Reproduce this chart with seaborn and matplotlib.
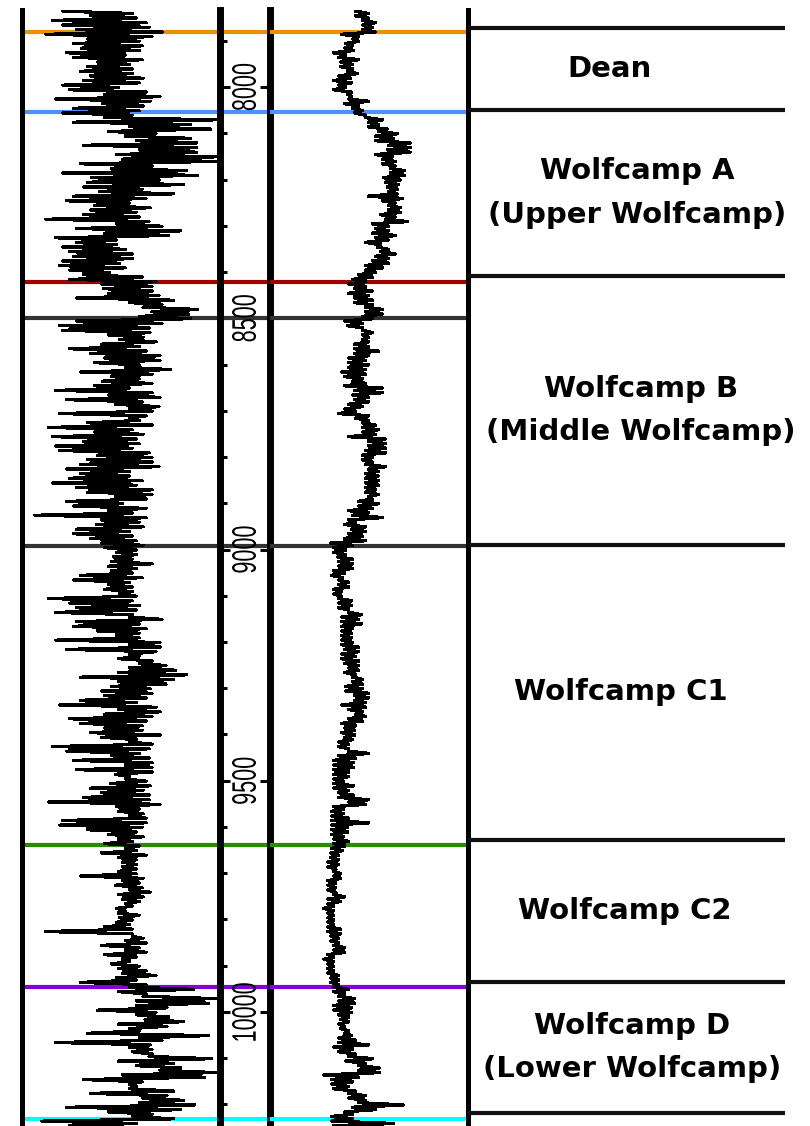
import numpy as np
import pandas as pd
import matplotlib
matplotlib.use('Agg')
import matplotlib.pyplot as plt
from matplotlib.ticker import MultipleLocator
from matplotlib.textpath import TextPath
from matplotlib.patches import PathPatch
from matplotlib.font_manager import FontProperties
from matplotlib.transforms import Affine2D
import seaborn as sns

sns.set_theme(style='white')
plt.rcParams['font.family'] = ['DejaVu Sans']

# log curves, one row every 10 ft
depth = np.arange(7836, 10247, 10)

# gamma ray track: low / high swing within each 10 ft row
gr_low = [41, 69, 31, 41, 55, 24, 66, 52, 60, 45, 52, 76, 66, 59, 69, 62, 41, 48, 83, 34,
          81, 52, 41, 83, 52, 108, 87, 104, 115, 62, 118, 95, 101, 59, 90, 41, 70, 66, 62, 78,
          52, 45, 73, 69, 62, 24, 95, 55, 83, 34, 55, 41, 48, 52, 41, 38, 48, 62, 48, 80,
          82, 87, 55, 108, 122, 131, 118, 55, 38, 41, 87, 98, 80, 48, 69, 83, 73, 104, 59, 90,
          81, 73, 34, 87, 45, 94, 108, 38, 108, 66, 27, 73, 31, 62, 34, 38, 76, 66, 59, 45,
          59, 48, 31, 55, 66, 94, 45, 52, 87, 13, 80, 75, 55, 52, 69, 80, 83, 95, 92, 90,
          87, 90, 59, 52, 87, 83, 98, 27, 48, 55, 34, 108, 55, 52, 76, 95, 34, 108, 45, 108,
          97, 118, 108, 97, 59, 97, 90, 80, 83, 59, 38, 97, 83, 48, 59, 83, 69, 80, 108, 31,
          45, 90, 52, 104, 55, 94, 104, 89, 69, 80, 62, 27, 95, 97, 108, 41, 38, 66, 87, 97,
          83, 104, 80, 97, 101, 101, 97, 59, 101, 94, 108, 97, 101, 104, 95, 97, 98, 95, 83, 24,
          111, 104, 80, 104, 83, 101, 90, 97, 101, 95, 59, 108, 97, 122, 115, 115, 76, 115, 124, 97,
          108, 66, 118, 34, 108, 111, 128, 97, 115, 139, 101, 62, 108, 108, 69, 122, 118, 45, 87, 111,
          20, 48]
gr_high = [111, 115, 125, 128, 141, 131, 118, 121, 118, 104, 121, 108, 111, 111, 122, 118, 97, 125, 139, 129,
           122, 118, 111, 195, 170, 190, 135, 170, 176, 176, 176, 195, 195, 131, 166, 177, 138, 163, 121, 153,
           125, 108, 129, 115, 118, 128, 141, 160, 148, 95, 95, 104, 111, 111, 98, 104, 88, 121, 135, 131,
           131, 138, 153, 141, 177, 168, 170, 141, 128, 129, 122, 135, 118, 125, 139, 139, 118, 150, 131, 118,
           131, 108, 131, 139, 121, 138, 131, 125, 118, 131, 111, 122, 115, 118, 111, 128, 131, 131, 138, 108,
           108, 121, 115, 131, 131, 125, 101, 125, 111, 125, 118, 122, 108, 111, 115, 122, 115, 115, 111, 131,
           115, 111, 121, 108, 111, 111, 115, 111, 118, 115, 111, 141, 118, 125, 118, 118, 139, 139, 135, 118,
           131, 145, 155, 166, 153, 145, 129, 131, 125, 115, 135, 139, 131, 125, 121, 121, 139, 115, 131, 128,
           118, 128, 131, 131, 131, 108, 125, 129, 122, 128, 128, 139, 118, 122, 125, 125, 121, 115, 122, 111,
           118, 115, 125, 115, 115, 115, 115, 122, 118, 121, 129, 122, 118, 111, 104, 118, 111, 108, 111, 111,
           122, 125, 118, 125, 115, 108, 118, 125, 135, 115, 125, 173, 125, 195, 188, 146, 135, 148, 163, 146,
           118, 188, 141, 129, 131, 131, 191, 153, 160, 195, 184, 121, 115, 153, 146, 163, 174, 160, 131, 153,
           115, 139]

# second curve (right track): low / high swing within each 10 ft row
res_low = [87, 87, 94, 94, 94, 73, 84, 77, 76, 65, 70, 72, 72, 79, 70, 65, 70, 65, 79, 80,
           76, 84, 86, 97, 100, 100, 110, 107, 107, 120, 119, 107, 114, 114, 122, 122, 115, 117, 119, 120,
           100, 114, 120, 120, 112, 117, 104, 107, 104, 107, 97, 109, 112, 107, 104, 97, 97, 90, 84, 80,
           86, 80, 86, 86, 97, 97, 94, 76, 79, 94, 94, 94, 86, 86, 86, 80, 80, 80, 73, 76,
           84, 76, 86, 84, 86, 80, 76, 70, 87, 94, 94, 94, 80, 100, 100, 97, 94, 94, 97, 100,
           97, 97, 97, 97, 97, 100, 90, 90, 80, 84, 80, 76, 83, 80, 76, 62, 65, 65, 69, 70,
           70, 65, 63, 70, 70, 65, 65, 70, 70, 70, 80, 73, 73, 73, 73, 73, 73, 73, 76, 73,
           73, 76, 80, 76, 84, 84, 77, 77, 86, 86, 73, 80, 87, 80, 73, 76, 73, 76, 70, 70,
           80, 70, 65, 65, 65, 65, 65, 65, 65, 70, 70, 80, 65, 63, 63, 63, 63, 63, 63, 65,
           65, 63, 62, 62, 59, 59, 65, 65, 59, 59, 59, 65, 59, 59, 55, 59, 59, 59, 59, 59,
           62, 62, 65, 65, 59, 55, 59, 59, 59, 62, 62, 65, 65, 70, 70, 65, 65, 70, 72, 70,
           72, 76, 70, 70, 65, 70, 80, 77, 90, 90, 55, 63, 63, 65, 80, 80, 90, 84, 76, 63,
           63, 65]
res_high = [100, 100, 107, 104, 107, 90, 90, 84, 85, 77, 90, 84, 84, 89, 82, 83, 77, 83, 83, 100,
            90, 94, 97, 114, 110, 119, 129, 125, 142, 142, 142, 124, 127, 127, 136, 136, 132, 130, 129, 129,
            134, 127, 132, 132, 127, 139, 120, 120, 127, 120, 112, 120, 127, 120, 120, 114, 107, 104, 97, 97,
            104, 100, 104, 104, 114, 114, 104, 94, 94, 104, 100, 100, 100, 110, 100, 97, 100, 97, 97, 94,
            97, 114, 114, 100, 100, 94, 87, 100, 100, 107, 110, 107, 117, 117, 117, 117, 104, 104, 117, 110,
            110, 110, 110, 107, 110, 104, 110, 104, 100, 114, 87, 97, 97, 94, 97, 84, 77, 77, 84, 84,
            84, 76, 74, 80, 80, 73, 73, 83, 83, 80, 93, 90, 93, 84, 83, 83, 84, 90, 90, 87,
            90, 90, 90, 87, 94, 94, 94, 100, 100, 97, 97, 94, 97, 94, 87, 86, 86, 84, 80, 80,
            100, 87, 85, 85, 80, 80, 75, 85, 80, 85, 100, 97, 75, 75, 80, 100, 79, 79, 75, 80,
            76, 74, 70, 70, 70, 67, 72, 72, 67, 67, 67, 76, 72, 65, 65, 65, 65, 65, 72, 72,
            70, 70, 76, 76, 65, 65, 65, 65, 70, 70, 70, 80, 76, 86, 86, 83, 83, 80, 80, 76,
            80, 83, 87, 100, 84, 87, 104, 97, 111, 111, 90, 84, 80, 87, 97, 97, 135, 107, 84, 84,
            125, 125]

# formation top picks drawn across the log tracks
top_depths = [7881, 8055, 8421, 8500, 8993, 9638, 9946, 10231]
top_colors = ['#e89200', '#4d91ff', '#a00000', '#333333', '#333333', '#2b8a00', '#8800d8', '#00ffff']

# zonation panel
zone_bounds = [7872, 8050, 8409, 8990, 9628, 9935, 10218]
zone_labels = ['Dean', 'Wolfcamp A\n(Upper Wolfcamp)', 'Wolfcamp B\n(Middle Wolfcamp)',
               'Wolfcamp C1', 'Wolfcamp C2', 'Wolfcamp D\n(Lower Wolfcamp)']
label_x = [0.414, 0.496, 0.506, 0.449, 0.460, 0.480]

depth_labels = [8000, 8500, 9000, 9500, 10000]

W, H = 810, 1126
fig = plt.figure(figsize=(W / 100, H / 100), dpi=100)


def box(x0, x1, y0=10, y1=H):
    return [x0 / W, 1 - y1 / H, (x1 - x0) / W, (y1 - y0) / H]


ax1 = fig.add_axes(box(22, 220.5))
axd = fig.add_axes(box(220.5, 269.5), sharey=ax1)
ax2 = fig.add_axes(box(269.5, 467.5), sharey=ax1)
axr = fig.add_axes(box(467.5, 810), sharey=ax1)
for ax in (ax1, axd, ax2, axr):
    ax.set_facecolor('none')

ax1.set_ylim(10246.5, 7833.5)


def zigzag(low, high):
    # alternate the low and high reading of every row, half a row apart
    return pd.DataFrame({
        'depth': np.column_stack([depth, depth + 5]).ravel(),
        'value': np.column_stack([low, high]).ravel(),
    })


sns.lineplot(data=zigzag(gr_low, gr_high), x='value', y='depth', orient='y', sort=False,
             estimator=None, color='black', lw=1.6, antialiased=False, ax=ax1, zorder=3)
sns.lineplot(data=zigzag(res_low, res_high), x='value', y='depth', orient='y', sort=False,
             estimator=None, color='black', lw=1.7, antialiased=False, ax=ax2, zorder=3)

for ax in (ax1, axd, ax2):
    ax.set_xlim(0, 200)
    for d, c in zip(top_depths, top_colors):
        ax.axhline(d, color=c, lw=3, zorder=1)
    ax.set_xlabel('')
    ax.set_ylabel('')
    ax.set_xticks([])
    for s in ax.spines.values():
        s.set_visible(False)
        s.set_color('black')

ax1.spines['left'].set_visible(True)
ax1.spines['left'].set_linewidth(3.6)
ax2.spines['right'].set_visible(True)
ax2.spines['right'].set_linewidth(3.6)
for side in ('left', 'right'):
    axd.spines[side].set_visible(True)
    axd.spines[side].set_linewidth(5)
    axd.spines[side].set_zorder(5)

for ax in (ax1, ax2, axr):
    ax.tick_params(axis='y', which='both', left=False, right=False,
                   labelleft=False, labelright=False)

# depth track ticks
axd.yaxis.set_major_locator(MultipleLocator(500))
axd.yaxis.set_minor_locator(MultipleLocator(100))
axd.tick_params(axis='y', which='major', direction='in', left=True, right=True,
                length=7, width=2.2, color='black', labelleft=False, labelright=False)
axd.tick_params(axis='y', which='minor', direction='in', left=True, right=False,
                length=4.7, width=2.2, color='black')

# narrow, rotated depth numbers (drawn as outlines so they can be condensed)
fp = FontProperties(family='Liberation Sans')
for d in depth_labels:
    tp = TextPath((0, 0), str(d), size=1, prop=fp)
    bb = tp.get_extents()
    xd, yd = axd.transData.transform((96, d))
    tr = (Affine2D()
          .translate(-(bb.x0 + bb.x1) / 2, -(bb.y0 + bb.y1) / 2)
          .scale(21.6, 34)
          .rotate_deg(90)
          .translate(xd, yd))
    fig.add_artist(PathPatch(tp, transform=tr, fc='black', ec='none', zorder=4))

# zonation panel
axr.set_xlim(0, 1)
axr.set_xticks([])
for s in axr.spines.values():
    s.set_visible(False)
axr.hlines(zone_bounds, 0, 0.927, color='#111111', lw=3)
for i, (lab, x) in enumerate(zip(zone_labels, label_x)):
    mid = (zone_bounds[i] + zone_bounds[i + 1]) / 2
    axr.text(x, mid, lab, ha='center', va='center', fontsize=21, fontweight='bold',
             color='black', linespacing=1.7, multialignment='center')

fig.savefig('out.png', dpi=100)
